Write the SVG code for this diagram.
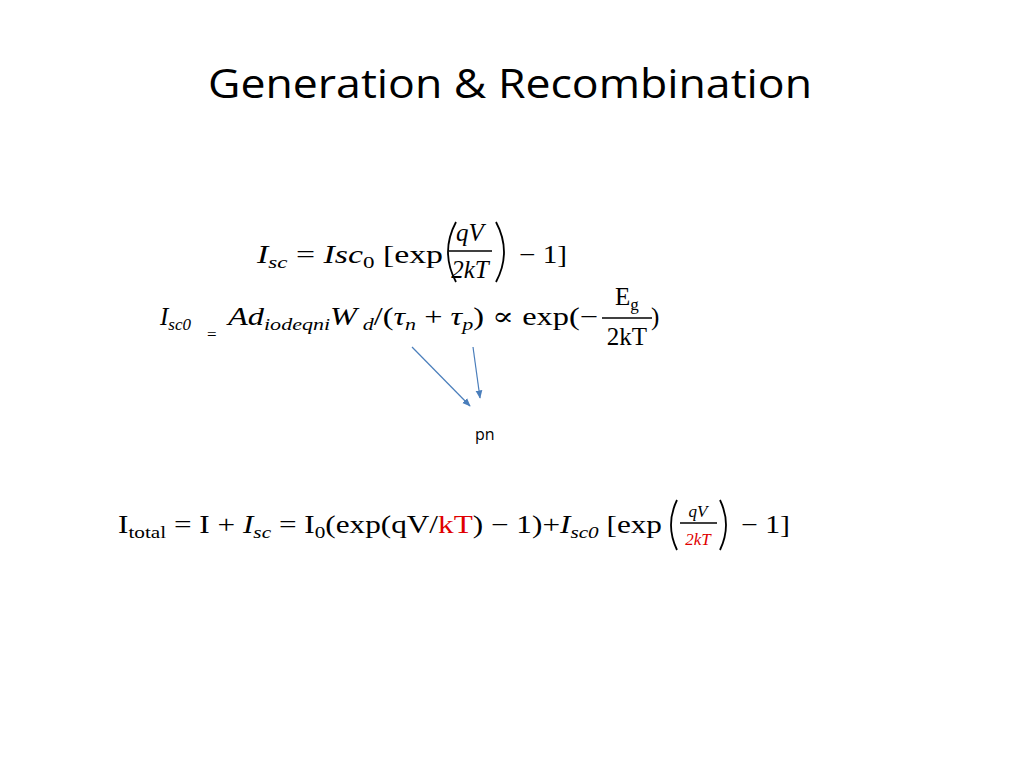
<svg xmlns="http://www.w3.org/2000/svg" width="1024" height="768" viewBox="0 0 1024 768">
<style>
.t{font-family:"Open Sans","Liberation Sans",Arial,sans-serif;fill:#000}
.m{font-family:"Liberation Serif","DejaVu Serif",serif;fill:#000;font-size:25px}
.i{font-style:italic}
.s{font-size:17px}
.r{fill:#e00000}
.bar{stroke:#000;stroke-width:1.3}
.par{stroke:#000;stroke-width:1.8;fill:none}
.arr{stroke:#4a7ebb;stroke-width:1.2;fill:none;marker-end:url(#ah)}
</style>
<defs>
<marker id="ah" viewBox="0 0 10 10" refX="9" refY="5" markerWidth="7" markerHeight="7" orient="auto"><path d="M0,1 L10,5 L0,9 z" fill="#4a7ebb"/></marker>
</defs>
<rect width="1024" height="768" fill="#fff"/>
<g id="title"><text class="t" x="208" y="98" font-size="40" textLength="604" lengthAdjust="spacingAndGlyphs">Generation &amp; Recombination</text></g>

<g id="eq1">
<text class="m" x="257" y="263" textLength="186" lengthAdjust="spacingAndGlyphs"><tspan class="i">I</tspan><tspan class="i s" dy="5">sc</tspan><tspan dy="-5"> = </tspan><tspan class="i">Isc</tspan><tspan class="s" dy="5">0</tspan><tspan dy="-5"> [exp</tspan></text>
<path class="par" d="M456,222 Q440,252 456,282"/>
<text class="m i" x="470" y="241" text-anchor="middle">qV</text>
<line class="bar" x1="449" y1="251" x2="492" y2="251"/>
<text class="m i" x="470" y="278" text-anchor="middle">2kT</text>
<path class="par" d="M496,222 Q512,252 496,282"/>
<text class="m" x="519" y="263" textLength="48" lengthAdjust="spacingAndGlyphs">− 1]</text>
</g>

<g id="eq2">
<text class="m" x="160" y="325"><tspan class="i">I</tspan><tspan class="i s" dy="5">sc0</tspan></text>
<text class="m s" x="207" y="340">=</text>
<text class="m" x="228" y="325" textLength="370" lengthAdjust="spacingAndGlyphs"><tspan class="i">Ad</tspan><tspan class="i s" dy="5">iodeqni</tspan><tspan class="i" dy="-5">W</tspan><tspan class="i s" dy="5"> d</tspan><tspan dy="-5">/(</tspan><tspan class="i">τ</tspan><tspan class="i s" dy="5">n</tspan><tspan dy="-5"> + </tspan><tspan class="i">τ</tspan><tspan class="i s" dy="5">p</tspan><tspan dy="-5">) ∝ exp(−</tspan></text>
<text class="m" x="615" y="305">E<tspan class="s" dy="5">g</tspan></text>
<line class="bar" x1="602" y1="318" x2="652" y2="318"/>
<text class="m" x="627" y="345" text-anchor="middle">2kT</text>
<text class="m" x="651" y="325">)</text>
</g>

<g id="connectors">
<line class="arr" x1="412" y1="347" x2="470" y2="406"/>
<line class="arr" x1="473" y1="347" x2="480" y2="398"/>
</g>

<g id="pn"><text class="t" x="475" y="440" font-size="16">pn</text></g>

<g id="eq3">
<text class="m" x="118" y="533" textLength="544" lengthAdjust="spacingAndGlyphs"><tspan>I</tspan><tspan class="s" dy="5">total</tspan><tspan dy="-5"> = I + </tspan><tspan class="i">I</tspan><tspan class="i s" dy="5">sc</tspan><tspan dy="-5"> = I</tspan><tspan class="s" dy="5">0</tspan><tspan dy="-5">(exp(qV/</tspan><tspan class="r">kT</tspan><tspan>) − 1)+</tspan><tspan class="i">I</tspan><tspan class="i s" dy="5">sc0</tspan><tspan dy="-5"> [exp</tspan></text>
<path class="par" d="M677,500 Q665,525 677,550"/>
<text class="m i s" x="698" y="517" text-anchor="middle">qV</text>
<line class="bar" x1="680" y1="523" x2="717" y2="523"/>
<text class="m i s r" x="698" y="545" text-anchor="middle">2kT</text>
<path class="par" d="M720,500 Q732,525 720,550"/>
<text class="m" x="741" y="533" textLength="49" lengthAdjust="spacingAndGlyphs">− 1]</text>
</g>
</svg>
